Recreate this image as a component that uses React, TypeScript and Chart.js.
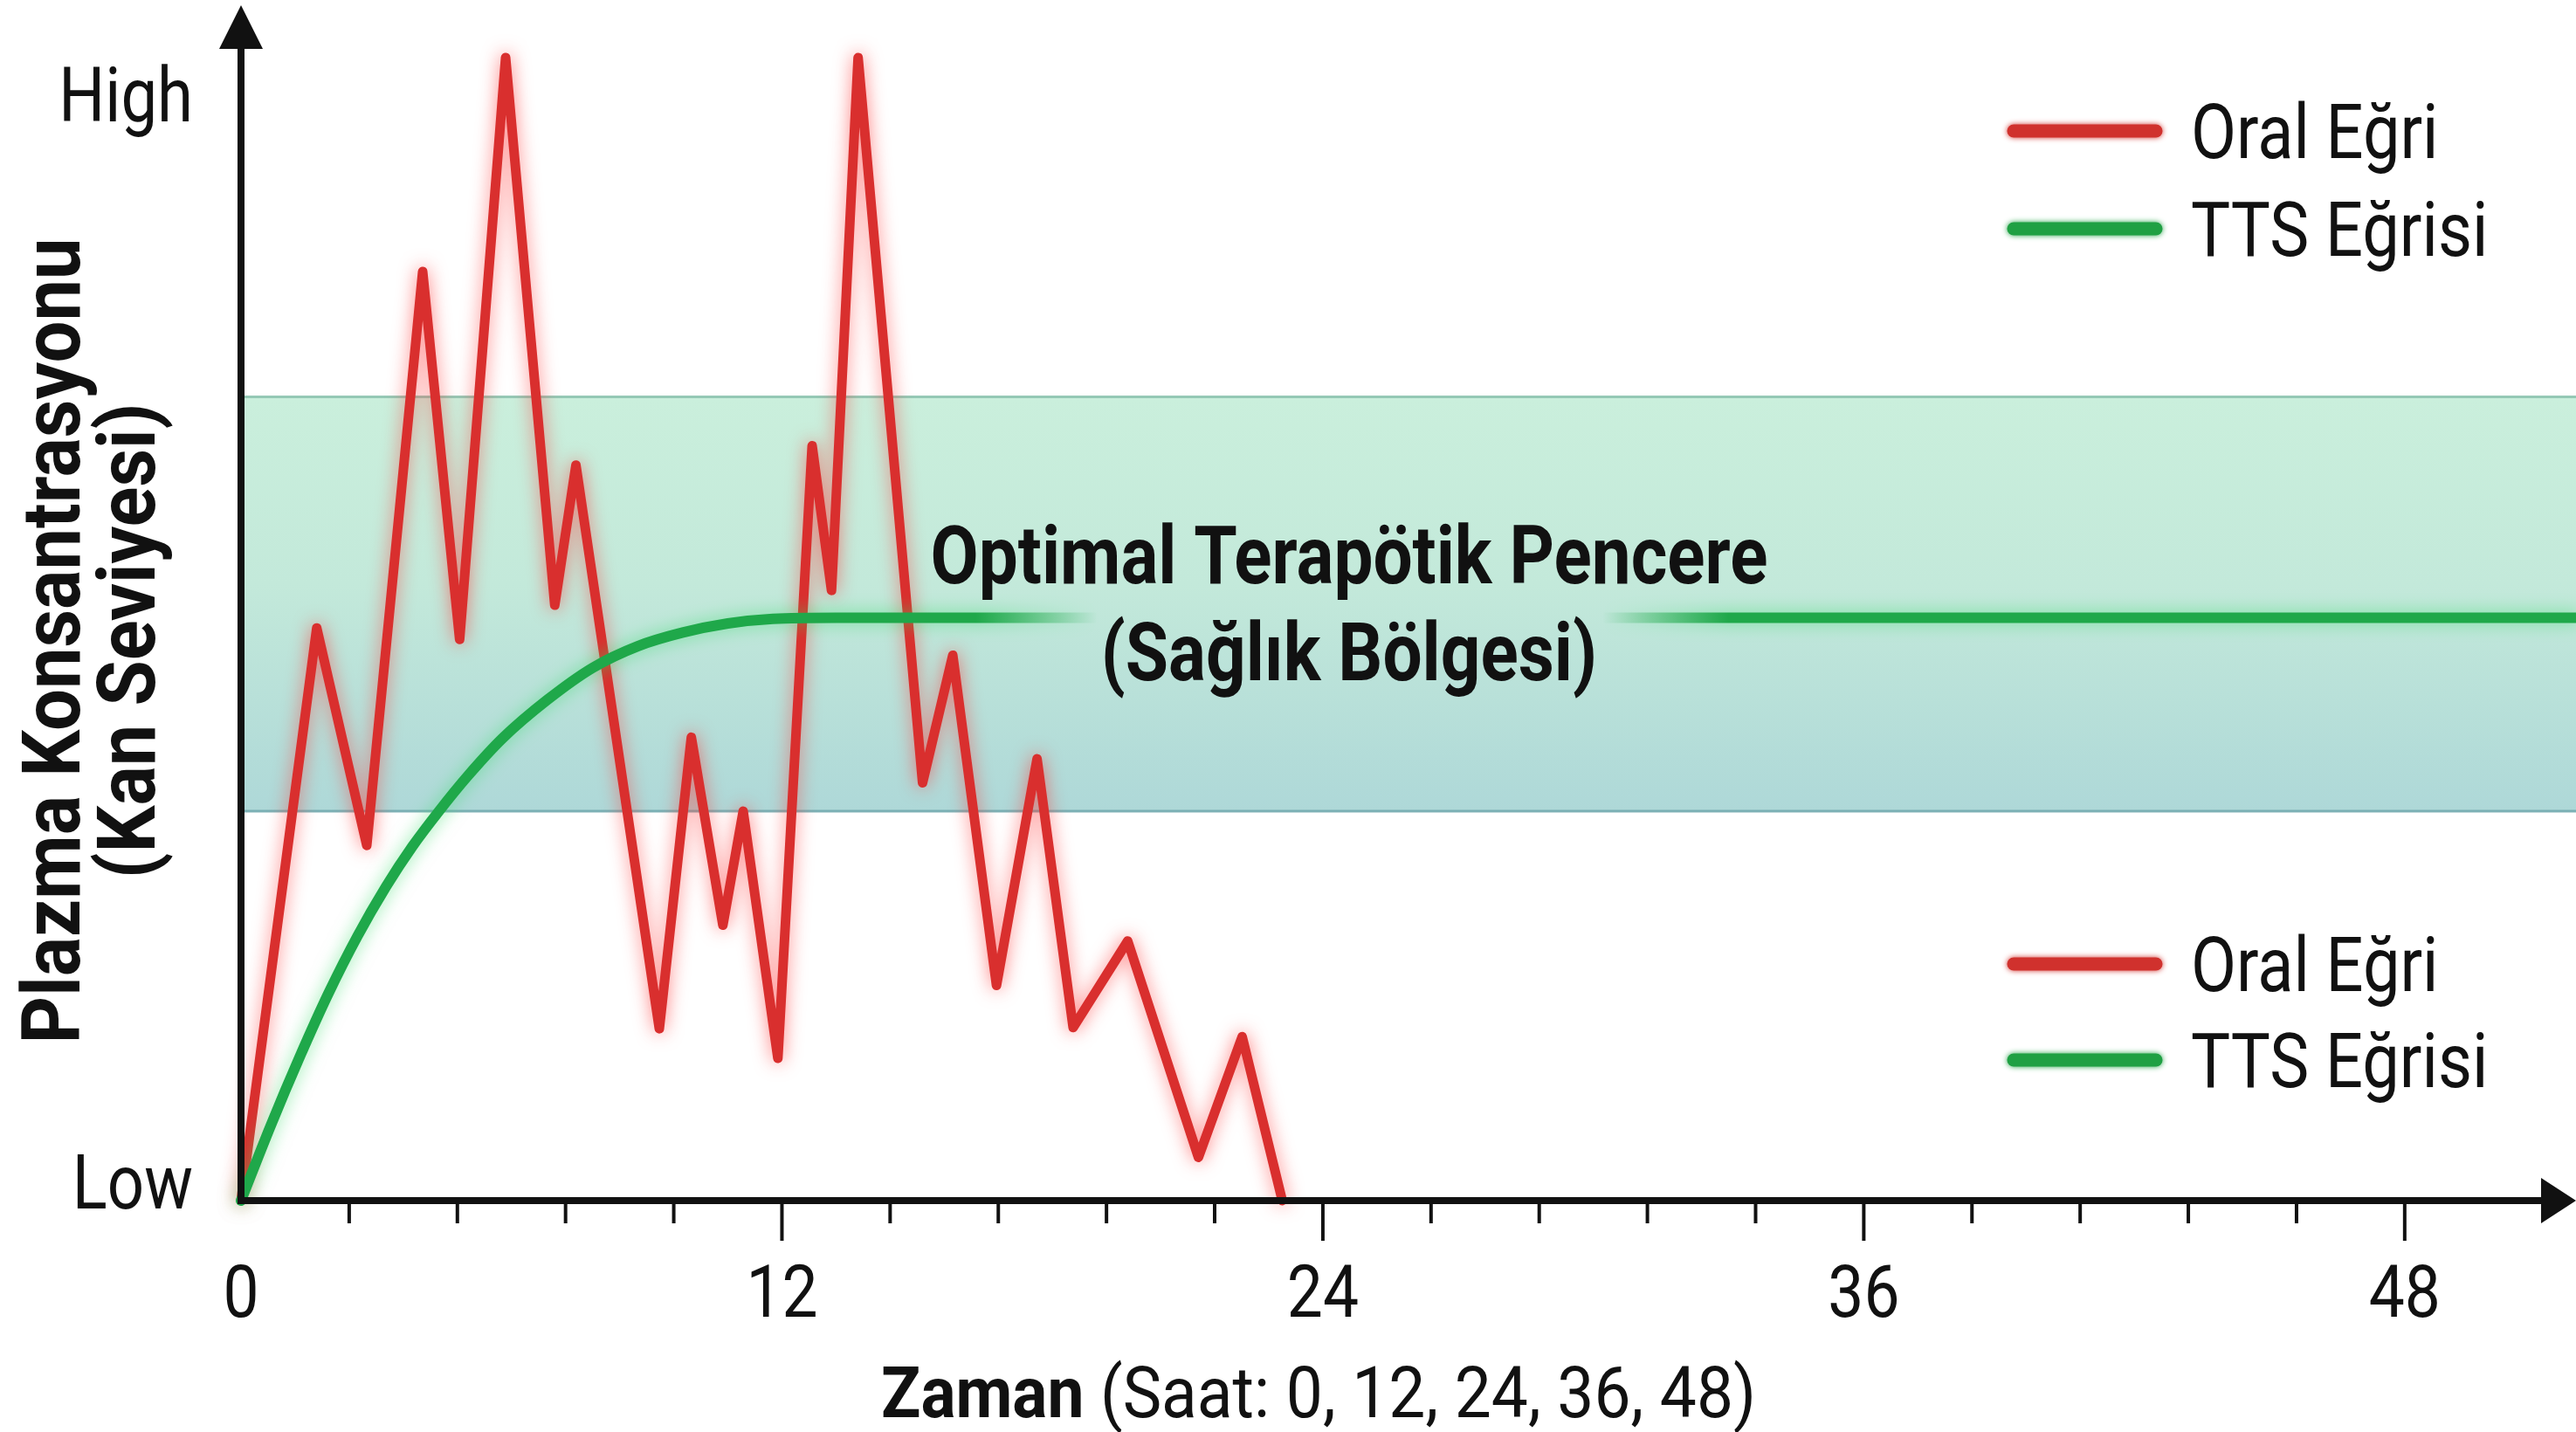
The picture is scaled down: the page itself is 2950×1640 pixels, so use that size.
import React, { useEffect, useRef } from "react";
import { Chart, registerables } from "chart.js";

Chart.register(...registerables);

// ---------------- data ----------------
const oralHours = [0, 1.68, 2.79, 4.03, 4.85, 5.87, 6.96, 7.43, 9.28, 9.99, 10.69, 11.14, 11.91, 12.67, 13.1, 13.69, 15.12, 15.79, 16.76, 17.66, 18.46, 19.67, 21.24, 22.21, 23.1];
const oralLevels = [0, 50.3, 31.2, 81.6, 49.3, 100.4, 52.3, 64.6, 15.1, 40.7, 24.2, 34.2, 12.5, 66.3, 53.6, 100.4, 36.7, 47.9, 18.9, 38.8, 15.2, 22.8, 3.8, 14.4, 0];
const ttsHours = [0, 0.66, 1.3, 1.94, 2.58, 3.22, 3.8, 4.39, 5.03, 5.8, 6.8, 7.8, 8.8, 9.8, 10.8, 11.8, 13.2, 24, 36, 48, 51.8];
const ttsLevels = [0, 6.6, 12.6, 18.2, 23.2, 27.6, 31.1, 34.2, 37.3, 40.6, 44.0, 46.8, 48.7, 49.9, 50.7, 51.1, 51.2, 51.2, 51.2, 51.2, 51.2];
const seriesLabels = ["Oral Eğri", "TTS Eğrisi"];
const timeTicks = [0, 12, 24, 36, 48];
const minorPerStep = 5;
const levelTickValues = [1.7, 97.2];
const levelTickLabels = ["Low", "High"];
const windowRange = [34.2, 70.6];
const windowLabel = ["Optimal Terapötik Pencere", "(Sağlık Bölgesi)"];
const yTitleLines = ["Plazma Konsantrasyonu", "(Kan Seviyesi)"];
const xTitleBold = "Zaman";
const xTitleRest = " (Saat: 0, 12, 24, 36, 48)";
const ttsFadeHours = [16.3, 19, 30.2, 33];

// ---------------- style ----------------
const RED = "#d92f2e";
const GREEN = "#1fa84a";
const GREEN_CLEAR = "rgba(31,168,74,0)";
const INK = "#111111";

let FAM = "'Liberation Sans Narrow', Roboto, sans-serif";
let SX = 1;

function detectFont(ctx: CanvasRenderingContext2D) {
  ctx.save();
  ctx.font = "100px 'Liberation Sans Narrow', monospace";
  const a = ctx.measureText("Optimal Terapötik").width;
  ctx.font = "100px monospace";
  const b = ctx.measureText("Optimal Terapötik").width;
  ctx.restore();
  if (Math.abs(a - b) > 1) {
    FAM = "'Liberation Sans Narrow', sans-serif";
    SX = 1.03;
  } else {
    FAM = "Roboto, sans-serif";
    SX = 0.87;
  }
}

function txt(
  ctx: CanvasRenderingContext2D,
  s: string,
  x: number,
  y: number,
  size: number,
  weight: string,
  align: CanvasTextAlign,
  rot = 0,
  stretch = 1
) {
  ctx.save();
  ctx.translate(x, y);
  if (rot) ctx.rotate(rot);
  ctx.scale(SX * stretch, 1);
  ctx.font = `${weight} ${size}px ${FAM}`;
  ctx.textAlign = align;
  ctx.textBaseline = "alphabetic";
  ctx.fillStyle = INK;
  ctx.fillText(s, 0, 0);
  ctx.restore();
}

function measure(ctx: CanvasRenderingContext2D, s: string, size: number, weight: string, stretch = 1) {
  ctx.save();
  ctx.font = `${weight} ${size}px ${FAM}`;
  const w = ctx.measureText(s).width * SX * stretch;
  ctx.restore();
  return w;
}

const glowPlugin = {
  id: "glow",
  beforeDatasetDraw(chart: any, args: any) {
    const ctx = chart.ctx;
    ctx.save();
    ctx.shadowBlur = 20;
    ctx.shadowColor = args.index === 0 ? "rgba(255,50,50,0.6)" : "rgba(50,220,100,0.55)";
  },
  afterDatasetDraw(chart: any) {
    chart.ctx.restore();
  },
};

const bandPlugin = {
  id: "band",
  beforeDatasetsDraw(chart: any) {
    const { ctx, chartArea, scales } = chart;
    const yTop = scales.y.getPixelForValue(windowRange[1]);
    const yBot = scales.y.getPixelForValue(windowRange[0]);
    const g = ctx.createLinearGradient(0, yTop, 0, yBot);
    g.addColorStop(0, "#caefdc");
    g.addColorStop(0.45, "#c3e9da");
    g.addColorStop(1, "#aed8d8");
    ctx.save();
    ctx.fillStyle = g;
    ctx.fillRect(chartArea.left, yTop, chartArea.right - chartArea.left, yBot - yTop);
    ctx.lineWidth = 3;
    ctx.strokeStyle = "rgba(140,195,175,0.9)";
    ctx.beginPath();
    ctx.moveTo(chartArea.left, yTop);
    ctx.lineTo(chartArea.right, yTop);
    ctx.stroke();
    ctx.strokeStyle = "rgba(115,170,175,0.9)";
    ctx.beginPath();
    ctx.moveTo(chartArea.left, yBot);
    ctx.lineTo(chartArea.right, yBot);
    ctx.stroke();
    ctx.restore();
  },
};

const decorPlugin = {
  id: "decor",
  afterDatasetsDraw(chart: any) {
    const { ctx, chartArea, scales } = chart;
    const { left, right, top, bottom } = chartArea;
    const xs = scales.x;
    const ys = scales.y;
    ctx.save();
    ctx.strokeStyle = INK;
    ctx.fillStyle = INK;
    ctx.lineCap = "butt";

    // y axis
    ctx.lineWidth = 8;
    ctx.beginPath();
    ctx.moveTo(left, bottom + 4);
    ctx.lineTo(left, top + 45);
    ctx.stroke();
    ctx.beginPath();
    ctx.moveTo(left, top);
    ctx.lineTo(left - 25, top + 50);
    ctx.lineTo(left + 25, top + 50);
    ctx.closePath();
    ctx.fill();

    // x axis
    ctx.beginPath();
    ctx.moveTo(left - 4, bottom);
    ctx.lineTo(right - 35, bottom);
    ctx.stroke();
    ctx.beginPath();
    ctx.moveTo(right, bottom);
    ctx.lineTo(right - 40, bottom - 26);
    ctx.lineTo(right - 40, bottom + 26);
    ctx.closePath();
    ctx.fill();

    // ticks
    ctx.lineWidth = 4;
    for (let i = 0; i < timeTicks.length; i++) {
      const t = timeTicks[i];
      const px = xs.getPixelForValue(t);
      if (i > 0) {
        ctx.beginPath();
        ctx.moveTo(px, bottom);
        ctx.lineTo(px, bottom + 46);
        ctx.stroke();
      }
      if (i < timeTicks.length - 1) {
        const step = (timeTicks[i + 1] - t) / minorPerStep;
        for (let k = 1; k < minorPerStep; k++) {
          const mx = xs.getPixelForValue(t + step * k);
          ctx.beginPath();
          ctx.moveTo(mx, bottom);
          ctx.lineTo(mx, bottom + 26);
          ctx.stroke();
        }
      }
      txt(ctx, String(t), px, bottom + 133, 84, "400", "center");
    }

    // level labels
    for (let i = 0; i < levelTickValues.length; i++) {
      const py = ys.getPixelForValue(levelTickValues[i]);
      txt(ctx, levelTickLabels[i], left - 55, py + 31, 88, "400", "right", 0, 0.97);
    }

    // y title
    const yMid = 734;
    txt(ctx, yTitleLines[0], 91, yMid, 92, "700", "center", -Math.PI / 2, 1.06);
    txt(ctx, yTitleLines[1], 177, yMid, 92, "700", "center", -Math.PI / 2, 1.06);

    // x title
    const st = 1.05;
    const wb = measure(ctx, xTitleBold, 82, "700", st);
    const wr = measure(ctx, xTitleRest, 82, "400", st);
    const sx0 = 1510 - (wb + wr) / 2;
    txt(ctx, xTitleBold, sx0, 1623, 82, "700", "left", 0, st);
    txt(ctx, xTitleRest, sx0 + wb, 1623, 82, "400", "left", 0, st);

    // window label
    txt(ctx, windowLabel[0], 1545, 668, 92, "700", "center");
    txt(ctx, windowLabel[1], 1545, 779, 92, "700", "center");

    // legends (two copies)
    const colors = chart.data.datasets.map((d: any) => d.legendColor);
    const legendRows = [
      [150, 262],
      [1104, 1214],
    ];
    for (const rows of legendRows) {
      rows.forEach((ly: number, i: number) => {
        ctx.save();
        ctx.lineCap = "round";
        ctx.lineWidth = 15;
        ctx.strokeStyle = colors[i];
        ctx.shadowBlur = 6;
        ctx.shadowColor = colors[i];
        ctx.beginPath();
        ctx.moveTo(2306, ly);
        ctx.lineTo(2469, ly);
        ctx.stroke();
        ctx.restore();
        txt(ctx, chart.data.datasets[i].label, 2509, ly + 31, 87, "400", "left");
      });
    }
    ctx.restore();
  },
};

export default function App() {
  const ref = useRef<HTMLCanvasElement | null>(null);
  useEffect(() => {
    const canvas = ref.current;
    if (!canvas) return;
    const c2d = canvas.getContext("2d");
    if (c2d) detectFont(c2d);
    const chart = new Chart(canvas, {
      type: "line",
      data: {
        datasets: [
          {
            label: seriesLabels[0],
            data: oralHours.map((h, i) => ({ x: h, y: oralLevels[i] })),
            borderColor: RED,
            legendColor: "#d0312d",
            borderWidth: 11,
            tension: 0,
            pointRadius: 0,
            borderJoinStyle: "round",
            borderCapStyle: "round",
            clip: false,
            order: 1,
          } as any,
          {
            label: seriesLabels[1],
            data: ttsHours.map((h, i) => ({ x: h, y: ttsLevels[i] })),
            legendColor: "#1fa043",
            borderColor: (c: any) => {
              const ch = c.chart;
              const area = ch.chartArea;
              if (!area) return GREEN;
              const xs = ch.scales.x;
              const w = area.right - area.left;
              const stop = (h: number) =>
                Math.min(1, Math.max(0, (xs.getPixelForValue(h) - area.left) / w));
              const g = ch.ctx.createLinearGradient(area.left, 0, area.right, 0);
              g.addColorStop(0, GREEN);
              g.addColorStop(stop(ttsFadeHours[0]), GREEN);
              g.addColorStop(stop(ttsFadeHours[1]), GREEN_CLEAR);
              g.addColorStop(stop(ttsFadeHours[2]), GREEN_CLEAR);
              g.addColorStop(stop(ttsFadeHours[3]), GREEN);
              g.addColorStop(1, GREEN);
              return g;
            },
            borderWidth: 12,
            cubicInterpolationMode: "monotone",
            pointRadius: 0,
            borderCapStyle: "round",
            clip: false,
            order: 0,
          } as any,
        ],
      },
      options: {
        responsive: false,
        maintainAspectRatio: false,
        devicePixelRatio: 1,
        animation: false,
        layout: { padding: { left: 276, right: 0, top: 6, bottom: 265 } },
        scales: {
          x: { type: "linear", min: 0, max: 51.8, display: false },
          y: { type: "linear", min: 0, max: 105, display: false },
        },
        plugins: {
          legend: { display: false },
          tooltip: { enabled: false },
          title: { display: false },
        },
        events: [],
      },
      plugins: [bandPlugin, glowPlugin, decorPlugin],
    } as any);
    return () => chart.destroy();
  }, []);
  return (
    <div style={{ position: "fixed", left: 0, top: 0, width: 2950, height: 1640, background: "#ffffff" }}>
      <canvas ref={ref} width={2950} height={1640} style={{ display: "block", width: 2950, height: 1640 }} />
    </div>
  );
}
